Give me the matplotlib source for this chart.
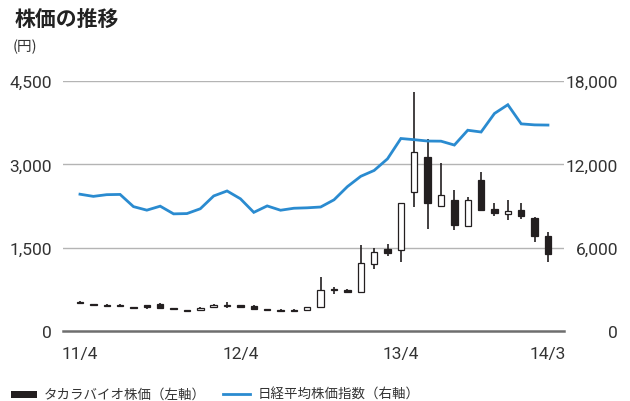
import matplotlib
matplotlib.use("Agg")
import matplotlib.pyplot as plt
from matplotlib.patches import Rectangle
from matplotlib.lines import Line2D
from matplotlib.ticker import FuncFormatter
import numpy as np

# ---- data (monthly, 2011/4 .. 2014/3) ----
months = ["11/4","11/5","11/6","11/7","11/8","11/9","11/10","11/11","11/12",
          "12/1","12/2","12/3","12/4","12/5","12/6","12/7","12/8","12/9","12/10","12/11","12/12",
          "13/1","13/2","13/3","13/4","13/5","13/6","13/7","13/8","13/9","13/10","13/11","13/12",
          "14/1","14/2","14/3"]
stock_open  = [520, 490, 470, 470, 430, 460, 480, 410, 375, 385, 430, 455, 460, 450, 390, 380, 385, 380,
               425, 760, 740, 705, 1210, 1480, 1460, 2500, 3140, 2245, 2365, 1890, 2725, 2200, 2115,
               2180, 2035, 1705]
stock_close = [500, 470, 450, 450, 410, 440, 420, 390, 360, 420, 460, 460, 440, 390, 375, 365, 365, 425,
               735, 745, 705, 1230, 1420, 1400, 2300, 3220, 2300, 2440, 1915, 2365, 2185, 2130, 2165,
               2075, 1715, 1385]
stock_high  = [545, 495, 485, 490, 440, 465, 500, 420, 385, 425, 490, 520, 470, 460, 400, 390, 395, 430,
               980, 800, 750, 1540, 1490, 1570, 2310, 4300, 3460, 3020, 2530, 2410, 2860, 2305, 2360,
               2300, 2055, 1780]
stock_low   = [495, 465, 445, 445, 400, 400, 410, 370, 355, 380, 410, 420, 420, 385, 365, 360, 360, 375,
               410, 660, 690, 700, 1120, 1355, 1240, 2230, 1840, 2240, 1810, 1885, 2165, 2065, 2005,
               2015, 1605, 1235]
nikkei = [9849, 9693, 9816, 9833, 8955, 8700, 8988, 8434, 8455, 8802, 9723, 10083, 9520, 8542, 9006,
          8695, 8839, 8870, 8928, 9446, 10395, 11138, 11559, 12397, 13860, 13774, 13677, 13668, 13388,
          14455, 14327, 15662, 16291, 14914, 14841, 14827]

xtick_labels = ["11/4", "12/4", "13/4", "14/3"]
left_ticks = [0, 1500, 3000, 4500]
right_ticks = [0, 6000, 12000, 18000]

title = "株価の推移"
unit = "(円)"
legend_stock = "タカラバイオ株価（左軸）"
legend_nikkei = "日経平均株価指数（右軸）"

# ---- style ----
DARK = "#231f20"
BLUE = "#2a8bd0"
TXT = "#333333"
num_font = ["Liberation Sans Narrow", "Roboto", "DejaVu Sans"]
jp_font = ["Noto Sans CJK JP", "DejaVu Sans"]

fig = plt.figure(figsize=(6.3, 4.02), dpi=100)
ax = fig.add_axes([63/630, 1-332/402, (564-63)/630, (332-82)/402])
ax2 = ax.twinx()

x = np.arange(len(months))
o = np.array(stock_open, float); c = np.array(stock_close, float)
h = np.array(stock_high, float); l = np.array(stock_low, float)

ax.set_ylim(0, 4500)
ax.set_xlim(-1.27, len(months) - 1 + 1.2)
ax2.set_ylim(0, 18000)

# gridlines
for v in left_ticks[1:]:
    ax.axhline(v, color="#b4b4b4", lw=1.0, zorder=0)
ax.axhline(0, color="#6e6e6e", lw=1.8, zorder=1, clip_on=False)

# candles
ax.vlines(x, l, h, color=DARK, lw=1.2, zorder=2)
up = c >= o
bottoms = np.minimum(o, c)
heights = np.maximum(np.abs(c - o), 16)
ax.bar(x[up], heights[up], bottom=bottoms[up], width=0.48, facecolor="white",
       edgecolor=DARK, linewidth=0.9, zorder=3)
ax.bar(x[~up], heights[~up], bottom=bottoms[~up], width=0.48, facecolor=DARK,
       edgecolor=DARK, linewidth=0.9, zorder=3)

# nikkei line
ax2.plot(x, nikkei, color=BLUE, lw=2.0, solid_joinstyle="miter", zorder=4)

# axes styling
for a in (ax, ax2):
    for s in a.spines.values():
        s.set_visible(False)
    a.set_facecolor("none")

fmt = FuncFormatter(lambda v, p: f"{int(v):,}")
ax.set_yticks(left_ticks)
ax.yaxis.set_major_formatter(fmt)
ax2.set_yticks(right_ticks)
ax2.yaxis.set_major_formatter(fmt)
tick_idx = [months.index(t) for t in xtick_labels]
ax.set_xticks(tick_idx)
ax.set_xticklabels(xtick_labels)

ax.tick_params(axis="y", length=0, pad=8, labelsize=12.5, labelcolor=TXT)
ax.tick_params(axis="x", length=0, pad=11, labelsize=12.5, labelcolor=TXT)
ax2.tick_params(axis="y", length=0, pad=39, labelsize=12.5, labelcolor=TXT)
for lab in ax2.get_yticklabels():
    lab.set_horizontalalignment("right")
for lab in ax.get_yticklabels() + ax.get_xticklabels() + ax2.get_yticklabels():
    lab.set_family(num_font)

# titles
fig.text(15/630, 1-19/402, title, family=jp_font, fontsize=15, fontweight="bold",
         color="#222222", va="center", ha="left")
fig.text(13/630, 1-47/402, unit, family=jp_font, fontsize=10.5, color=TXT,
         va="center", ha="left")

# legend
ly = 1-395/402
fig.patches.append(Rectangle((11/630, ly-3.5/402), 26/630, 7/402, transform=fig.transFigure,
                             facecolor=DARK, edgecolor="none"))
fig.text(44/630, ly, legend_stock, family=jp_font, fontsize=9.7, color=TXT, va="center", ha="left")
fig.lines.append(Line2D([223/630, 250/630], [ly, ly], transform=fig.transFigure,
                        color=BLUE, lw=2.0))
fig.text(258/630, ly, legend_nikkei, family=jp_font, fontsize=9.7, color=TXT, va="center", ha="left")

fig.savefig("out.png", dpi=100)
